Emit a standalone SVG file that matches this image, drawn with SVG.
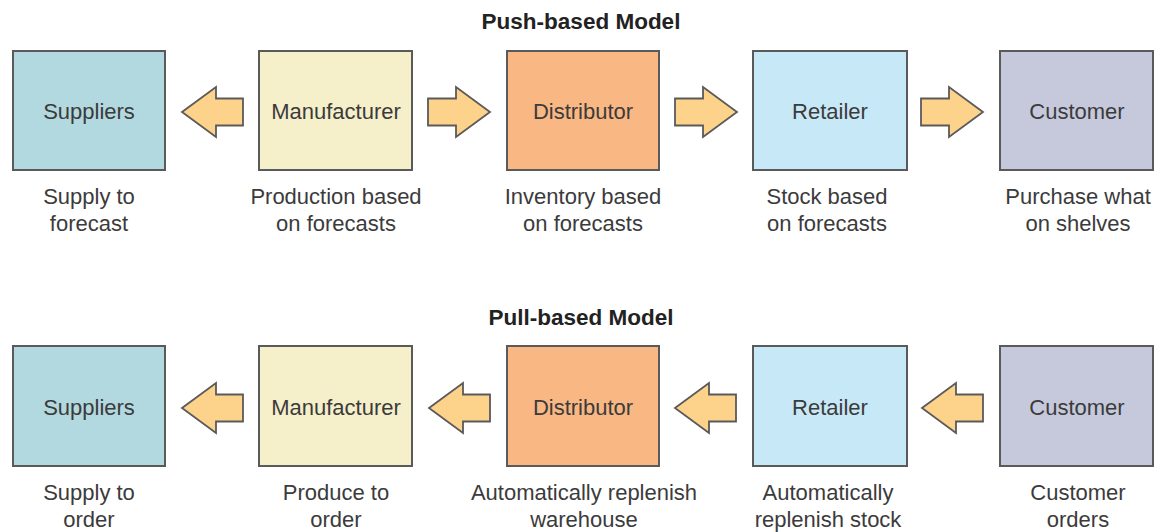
<svg xmlns="http://www.w3.org/2000/svg" width="1155" height="532" viewBox="0 0 1155 532">
  <defs>
    <style>
      .box { stroke: #5a5a5a; stroke-width: 2; }
      .suppliers { fill: #b1d9df; }
      .manufacturer { fill: #f5efca; }
      .distributor { fill: #f9b784; }
      .retailer { fill: #c7e8f7; }
      .customer { fill: #c6c9dc; }
      .arrow { fill: #fdd28a; stroke: #5a5a5a; stroke-width: 1.8; stroke-linejoin: miter; }
      .name { font-family: "Liberation Sans", Arial, sans-serif; font-size: 22px; fill: #3b3b3b; text-anchor: middle; }
      .note { font-family: "Liberation Sans", Arial, sans-serif; font-size: 22px; fill: #3b3b3b; text-anchor: middle; }
      .title { font-family: "Liberation Sans", Arial, sans-serif; font-size: 22.5px; font-weight: bold; fill: #222; text-anchor: middle; }
    </style>
    <!-- block arrows, drawn around the origin (tip at x=0 for left-pointing) -->
    <path id="arrowLeft" d="M0,0 L34,-25 L34,-13.5 L61,-13.5 L61,13.5 L34,13.5 L34,25 Z"/>
    <path id="arrowRight" d="M0,-13.5 L28,-13.5 L28,-25 L62,0 L28,25 L28,13.5 L0,13.5 Z"/>
  </defs>

  <rect width="1155" height="532" fill="#ffffff"/>

  <!-- ===== Push-based model ===== -->
  <text class="title" x="581" y="29">Push-based Model</text>

  <g id="push-suppliers">
    <rect class="box suppliers" x="13" y="51" width="152" height="119"/>
    <text class="name" x="89" y="119">Suppliers</text>
    <text class="note" x="89" y="204">Supply to</text>
    <text class="note" x="89" y="231">forecast</text>
  </g>
  <g id="push-manufacturer">
    <rect class="box manufacturer" x="259" y="51" width="153" height="119"/>
    <text class="name" x="336" y="119">Manufacturer</text>
    <text class="note" x="336" y="204">Production based</text>
    <text class="note" x="336" y="231">on forecasts</text>
  </g>
  <g id="push-distributor">
    <rect class="box distributor" x="507" y="51" width="152" height="119"/>
    <text class="name" x="583" y="119">Distributor</text>
    <text class="note" x="583" y="204">Inventory based</text>
    <text class="note" x="583" y="231">on forecasts</text>
  </g>
  <g id="push-retailer">
    <rect class="box retailer" x="753" y="51" width="154" height="119"/>
    <text class="name" x="830" y="119">Retailer</text>
    <text class="note" x="827" y="204">Stock based</text>
    <text class="note" x="827" y="231">on forecasts</text>
  </g>
  <g id="push-customer">
    <rect class="box customer" x="1000" y="51" width="153" height="119"/>
    <text class="name" x="1077" y="119">Customer</text>
    <text class="note" x="1078" y="204">Purchase what</text>
    <text class="note" x="1078" y="231">on shelves</text>
  </g>

  <!-- ===== Pull-based model ===== -->
  <text class="title" x="581" y="325">Pull-based Model</text>

  <g id="pull-suppliers">
    <rect class="box suppliers" x="13" y="346" width="152" height="120"/>
    <text class="name" x="89" y="415">Suppliers</text>
    <text class="note" x="89" y="500">Supply to</text>
    <text class="note" x="89" y="527">order</text>
  </g>
  <g id="pull-manufacturer">
    <rect class="box manufacturer" x="259" y="346" width="153" height="120"/>
    <text class="name" x="336" y="415">Manufacturer</text>
    <text class="note" x="336" y="500">Produce to</text>
    <text class="note" x="336" y="527">order</text>
  </g>
  <g id="pull-distributor">
    <rect class="box distributor" x="507" y="346" width="152" height="120"/>
    <text class="name" x="583" y="415">Distributor</text>
    <text class="note" x="584" y="500">Automatically replenish</text>
    <text class="note" x="584" y="527">warehouse</text>
  </g>
  <g id="pull-retailer">
    <rect class="box retailer" x="753" y="346" width="154" height="120"/>
    <text class="name" x="830" y="415">Retailer</text>
    <text class="note" x="828" y="500">Automatically</text>
    <text class="note" x="828" y="527">replenish stock</text>
  </g>
  <g id="pull-customer">
    <rect class="box customer" x="1000" y="346" width="153" height="120"/>
    <text class="name" x="1077" y="415">Customer</text>
    <text class="note" x="1078" y="500">Customer</text>
    <text class="note" x="1078" y="527">orders</text>
  </g>

  <!-- ===== Connectors ===== -->
  <g id="connectors">
    <!-- push flow -->
    <use href="#arrowLeft" class="arrow" x="182" y="112"/>
    <use href="#arrowRight" class="arrow" x="428" y="112"/>
    <use href="#arrowRight" class="arrow" x="675" y="112"/>
    <use href="#arrowRight" class="arrow" x="921" y="112"/>
    <!-- pull flow -->
    <use href="#arrowLeft" class="arrow" x="182" y="408"/>
    <use href="#arrowLeft" class="arrow" x="429" y="408"/>
    <use href="#arrowLeft" class="arrow" x="675" y="408"/>
    <use href="#arrowLeft" class="arrow" x="922" y="408"/>
  </g>
</svg>
